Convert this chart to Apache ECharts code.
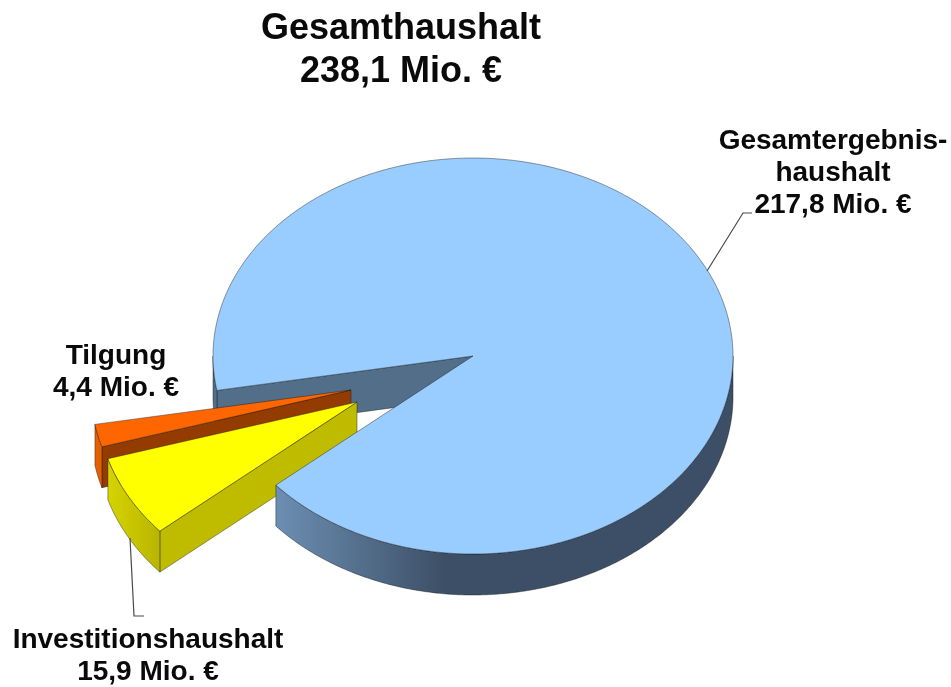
<!DOCTYPE html>
<html><head><meta charset="utf-8">
<style>html,body{margin:0;padding:0;background:#fff}#c{width:951px;height:687px}</style>
<script src="https://cdn.jsdelivr.net/npm/echarts@6/dist/echarts.min.js"></script>
</head><body><div id="c"></div>
<script>
const categories = ['Gesamtergebnishaushalt', 'Investitionshaushalt', 'Tilgung'];
const labelNames = ['Gesamtergebnis-\nhaushalt', 'Investitionshaushalt', 'Tilgung'];
const values = [217.8, 15.9, 4.4];
const titleName = 'Gesamthaushalt';
const unit = ' Mio. €';

const FONT = '"Liberation Sans", Arial, sans-serif';
const CX = 473, CY = 356, RX = 260, RY = 198, DEPTH = 41, START = 170;
const explode = [[0, 0], [-116, 46], [-122, 34]];
const topFill = ['#99ccff', '#ffff00', '#ff6600'];
const wallFill = ['#526e89', '#bfbc00', '#943c00'];
const sideFill = [
  {type:'linear',global:true,x:275,y:0,x2:445,y2:0,colorStops:[{offset:0,color:'#6c8fb3'},{offset:1,color:'#3c4f66'}]},
  {type:'linear',global:true,x:108,y:0,x2:160,y2:0,colorStops:[{offset:0,color:'#d6d300'},{offset:1,color:'#b8b500'}]},
  {type:'linear',global:true,x:95,y:0,x2:108,y2:0,colorStops:[{offset:0,color:'#e86200'},{offset:1,color:'#d85a00'}]}
];
const labelPos = [[833, 173.5], [148, 656], [116, 372]];
const leaders = [
  [[707, 271], [743, 213], [752, 213]],
  [[130, 538], [134, 616], [144, 616]],
  null
];
const EDGE = 'rgba(20,20,20,0.6)';
const fmt = v => v.toFixed(1).replace('.', ',') + unit;
const total = values.reduce((a, b) => a + b, 0);

// sweep angles from the values, clockwise on screen
const sweeps = values.map(v => v / total * 360);
const starts = [];
sweeps.reduce((acc, s, i) => (starts[i] = acc, acc + s), START);

function pt(deg, off, h) {
  const t = deg * Math.PI / 180;
  return [CX + off[0] + RX * Math.cos(t), CY + off[1] + RY * Math.sin(t) + (h || 0)];
}
function arc(a, b, off, h) {
  const out = [], n = Math.max(2, Math.ceil(Math.abs(b - a) * 2));
  for (let i = 0; i <= n; i++) out.push(pt(a + (b - a) * i / n, off, h));
  return out;
}
function poly(points, fill, z2, lw) {
  return {type:'polygon', z2, shape:{points}, style:{fill, stroke:EDGE, lineWidth:lw === undefined ? 0.7 : lw}};
}
// angle ranges of the slice that face the viewer
function frontRanges(a, b) {
  const r = [];
  for (let k = -1; k < 3; k++) {
    const lo = Math.max(a, 360 * k), hi = Math.min(b, 360 * k + 180);
    if (hi > lo) r.push([lo, hi]);
  }
  return r;
}
const wallZ = [1, 4, 2];
const sideZ = [10, 6, 3];
const topZ = [11, 7, 5];

function renderItem(params, api) {
  const i = params.dataIndex;
  const sweep = api.value(0) / total * 360;
  const a = starts[i], b = a + sweep, off = explode[i];
  const apex = [CX + off[0], CY + off[1]];
  const apexLow = [apex[0], apex[1] + DEPTH];
  const children = [];
  children.push(poly([apex, pt(a, off), pt(a, off, DEPTH), apexLow], wallFill[i], wallZ[i]));
  frontRanges(a, b).forEach(([lo, hi]) => {
    const top = arc(lo, hi, off), low = arc(hi, lo, off, DEPTH);
    // the sliver left of the cut lies behind the exploded slices
    const z = (i === 0 && lo < 180) ? 1 : sideZ[i];
    const fill = (i === 0 && lo < 180) ? wallFill[0] : sideFill[i];
    children.push(poly(top.concat(low), fill, z));
  });
  children.push(poly([apex].concat(arc(a, b, off)), topFill[i], topZ[i]));
  if (leaders[i]) {
    children.push({type:'polyline', z2:20, shape:{points:leaders[i]},
      style:{fill:null, stroke:'#4a4a4a', lineWidth:1.2}});
  }
  children.push({type:'text', z2:21, x:labelPos[i][0], y:labelPos[i][1],
    style:{text:labelNames[i] + '\n' + fmt(api.value(0)), fill:'#0a0a0a', align:'center', verticalAlign:'middle',
      font:'bold 28px ' + FONT, lineHeight:32}});
  return {type:'group', children};
}

const chart = echarts.init(document.getElementById('c'), null, {renderer:'canvas'});
chart.setOption({
  animation:false,
  backgroundColor:'#ffffff',
  title:{
    text:titleName + '\n' + fmt(total), left:396, top:3, textAlign:'center',
    textStyle:{fontFamily:FONT, fontWeight:'bold', fontSize:36, lineHeight:43, color:'#0a0a0a'}
  },
  series:[{
    type:'custom', coordinateSystem:'none', renderItem, silent:true,
    data:values.map((v, i) => ({name:categories[i], value:[v]}))
  }]
});
</script></body></html>
